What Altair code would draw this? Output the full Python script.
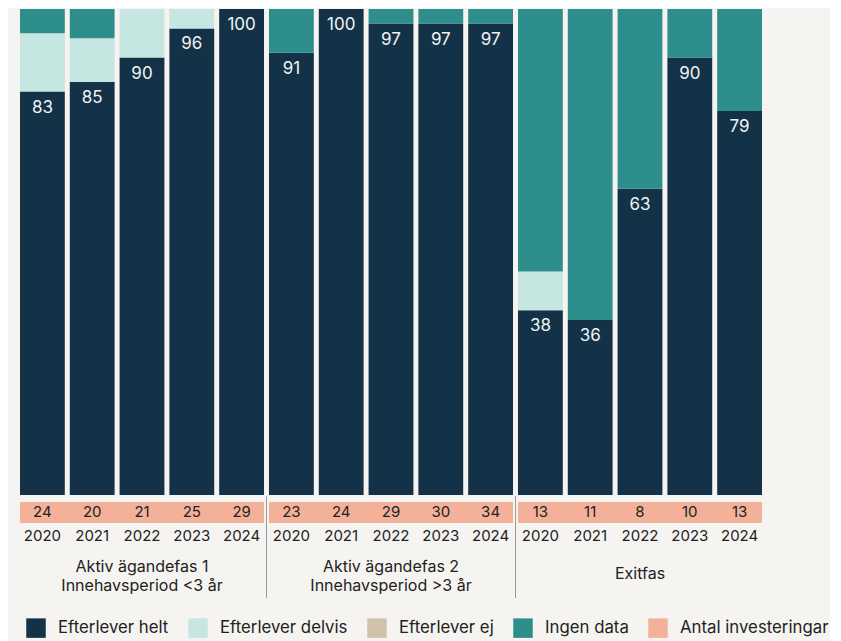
import altair as alt
import pandas as pd

# ---- data ----
groups = ["Aktiv ägandefas 1\nInnehavsperiod <3 år",
          "Aktiv ägandefas 2\nInnehavsperiod >3 år",
          "Exitfas"]
years = ["2020", "2021", "2022", "2023", "2024"]

helt   = [83, 85, 90, 96, 100,   91, 100, 97, 97, 97,   38, 36, 63, 90, 79]
delvis = [12,  9, 10,  4,   0,    0,   0,  0,  0,  0,    8,  0,  0,  0,  0]
ej     = [ 0,  0,  0,  0,   0,    0,   0,  0,  0,  0,    0,  0,  0,  0,  0]
ingen  = [ 5,  6,  0,  0,   0,    9,   0,  3,  3,  3,   54, 64, 37, 10, 21]
antal  = [24, 20, 21, 25, 29,    23, 24, 29, 30, 34,    13, 11,  8, 10, 13]

categories = ["Efterlever helt", "Efterlever delvis", "Efterlever ej",
              "Ingen data", "Antal investeringar"]
colors = ["#133248", "#C6E6E1", "#D1C2AB", "#2E8E8B", "#F4B19A"]

BG = "#F5F4F0"
FONT = "Inter"

# ---- tables ----
keys, key_group, key_year = [], [], []
for gi, g in enumerate(groups):
    for y in years:
        keys.append(f"{gi}-{y}")
        key_group.append(g)
        key_year.append(y)

series = {"Efterlever helt": helt, "Efterlever delvis": delvis,
          "Efterlever ej": ej, "Ingen data": ingen}
long_rows = []
for ci, (cat, vals) in enumerate(series.items()):
    for i, k in enumerate(keys):
        long_rows.append({"key": k, "category": cat, "value": vals[i], "order": ci})
long_df = pd.DataFrame(long_rows)

key_df = pd.DataFrame({"key": keys, "group": key_group, "year": key_year,
                       "helt": helt, "antal": antal})
key_df["row_count"] = "count"
key_df["row_year"] = "year"

grp_df = pd.DataFrame({"group": groups, "row": "count", "phase": "phase"})
grp_df["lines"] = [g.count("\n") + 1 for g in groups]
sep_df = pd.DataFrame({"group": groups[1:]})

W = 747
key_x = alt.X("key:N", sort=keys,
              scale=alt.Scale(domain=keys, paddingInner=0.1, paddingOuter=0.05),
              axis=None)

# ---- top: stacked bars ----
ydom = alt.Scale(domain=[0, 100], nice=False)
bars = alt.Chart(long_df).mark_bar().encode(
    x=key_x,
    y=alt.Y("value:Q", stack="zero", scale=ydom, axis=None),
    color=alt.Color("category:N",
                    scale=alt.Scale(domain=categories, range=colors),
                    legend=alt.Legend(title=None, orient="none",
                                      legendX=8.5, legendY=609,
                                      direction="horizontal",
                                      columns=5)),
    order=alt.Order("order:Q", sort="ascending"),
)
labels = alt.Chart(key_df).mark_text(
    color="#F2F2F2", font=FONT, fontSize=17, baseline="middle", dy=16
).encode(
    x=key_x,
    y=alt.Y("helt:Q", scale=ydom, axis=None, stack=None),
    text="helt:Q",
)
top = alt.layer(bars, labels).properties(width=W, height=486)

# ---- bottom: counts strip, years, group labels, separators ----
row_scale = alt.Scale(domain=["count", "year", "blank", "phase"],
                      paddingInner=0, paddingOuter=0.4286, align=0.3333)

strip = alt.Chart(grp_df).mark_rect(color="#F4B19A").encode(
    x=alt.X("group:N", sort=groups,
            scale=alt.Scale(domain=groups, paddingInner=0.02, paddingOuter=0.01),
            axis=None),
    y=alt.Y("row:N", scale=row_scale, axis=None),
)
counts = alt.Chart(key_df).mark_text(
    font=FONT, fontSize=15, color="#222222", baseline="middle"
).encode(
    x=key_x,
    y=alt.Y("row_count:N", scale=row_scale, axis=None),
    text="antal:Q",
)
year_txt = alt.Chart(key_df).mark_text(
    font=FONT, fontSize=15, color="#222222", baseline="middle", dy=2.5
).encode(
    x=key_x,
    y=alt.Y("row_year:N", scale=row_scale, axis=None),
    text="year:N",
)
grp_x = alt.X("group:N", sort=groups,
              scale=alt.Scale(domain=groups, paddingInner=0, paddingOuter=0),
              axis=None)
grp_txt2 = alt.Chart(grp_df).transform_filter("datum.lines == 2").mark_text(
    font=FONT, fontSize=16, color="#222222", baseline="middle",
    lineBreak="\n", lineHeight=19, dy=-8.5
).encode(
    x=grp_x,
    y=alt.Y("phase:N", scale=row_scale, axis=None),
    text="group:N",
)
grp_txt1 = alt.Chart(grp_df).transform_filter("datum.lines == 1").mark_text(
    font=FONT, fontSize=16, color="#222222", baseline="middle", dy=-1.5
).encode(
    x=grp_x,
    y=alt.Y("phase:N", scale=row_scale, axis=None),
    text="group:N",
)
seps = alt.Chart(sep_df).mark_rule(color="#9A9A9A", strokeWidth=1).encode(
    x=alt.X("group:N", sort=groups,
            scale=alt.Scale(domain=groups, paddingInner=0, paddingOuter=0),
            bandPosition=0, axis=None),
)
bottom = alt.layer(strip, counts, year_txt, grp_txt2, grp_txt1, seps).resolve_scale(
    x="independent").properties(width=W, height=102)

chart = alt.vconcat(top, bottom, spacing=0).properties(
    background=BG,
    padding={"left": 9.5, "top": 1, "right": 0, "bottom": 5},
).configure_view(stroke=None).configure_legend(
    symbolType="square", symbolSize=380, symbolStrokeWidth=0,
    labelFont=FONT, labelFontSize=16.8, labelColor="#222222",
    labelOffset=12, columnPadding=19, labelLimit=300,
)

chart.save("out.html", embed_options={"renderer": "svg", "actions": False})
